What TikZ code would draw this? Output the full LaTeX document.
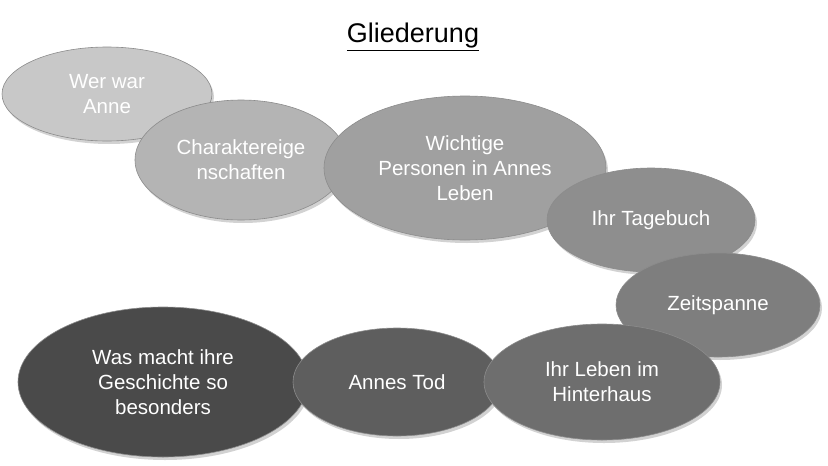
\documentclass[tikz,border=0pt]{standalone}
\usepackage{fontspec}
\setmainfont{Liberation Sans}
\usetikzlibrary{shapes.geometric,shadows}
\definecolor{c1}{HTML}{C8C8C8}
\definecolor{c2}{HTML}{B4B4B4}
\definecolor{c3}{HTML}{A0A0A0}
\definecolor{c4}{HTML}{8E8E8E}
\definecolor{c5}{HTML}{7E7E7E}
\definecolor{c6}{HTML}{6E6E6E}
\definecolor{c7}{HTML}{5E5E5E}
\definecolor{c8}{HTML}{4A4A4A}
\begin{document}
\begin{tikzpicture}[x=1pt,y=-1pt,
  blob/.style={ellipse,inner sep=0pt,draw=black!45,line width=0.6pt,
    drop shadow={shadow xshift=2pt,shadow yshift=-3pt,opacity=0.35},
    text=white,align=center,font=\fontsize{20.5}{25}\selectfont}]
\useasboundingbox[fill=white] (0,0) rectangle (828,466);
\node (title) at (413,37) {\fontsize{27}{32}\selectfont\underline{Gliederung}};
\node[blob,fill=c1,minimum width=210pt,minimum height=94pt] (n1) at (107,94) {Wer war\\Anne};
\node[blob,fill=c2,minimum width=212pt,minimum height=120pt] (n2) at (241,160) {Charaktereige\\nschaften};
\node[blob,fill=c3,minimum width=282pt,minimum height=144pt] (n3) at (465,168) {Wichtige\\Personen in Annes\\Leben};
\node[blob,fill=c4,minimum width=208pt,minimum height=104pt] (n4) at (651,220) {Ihr Tagebuch};
\node[blob,fill=c5,minimum width=204pt,minimum height=104pt] (n5) at (718,305) {Zeitspanne};
\node[blob,fill=c8,minimum width=290pt,minimum height=150pt] (n8) at (163,382) {Was macht ihre\\Geschichte so\\besonders};
\node[blob,fill=c7,minimum width=208pt,minimum height=108pt] (n7) at (397,382) {Annes Tod};
\node[blob,fill=c6,minimum width=236pt,minimum height=116pt] (n6) at (602,382) {Ihr Leben im\\Hinterhaus};
\end{tikzpicture}
\end{document}
